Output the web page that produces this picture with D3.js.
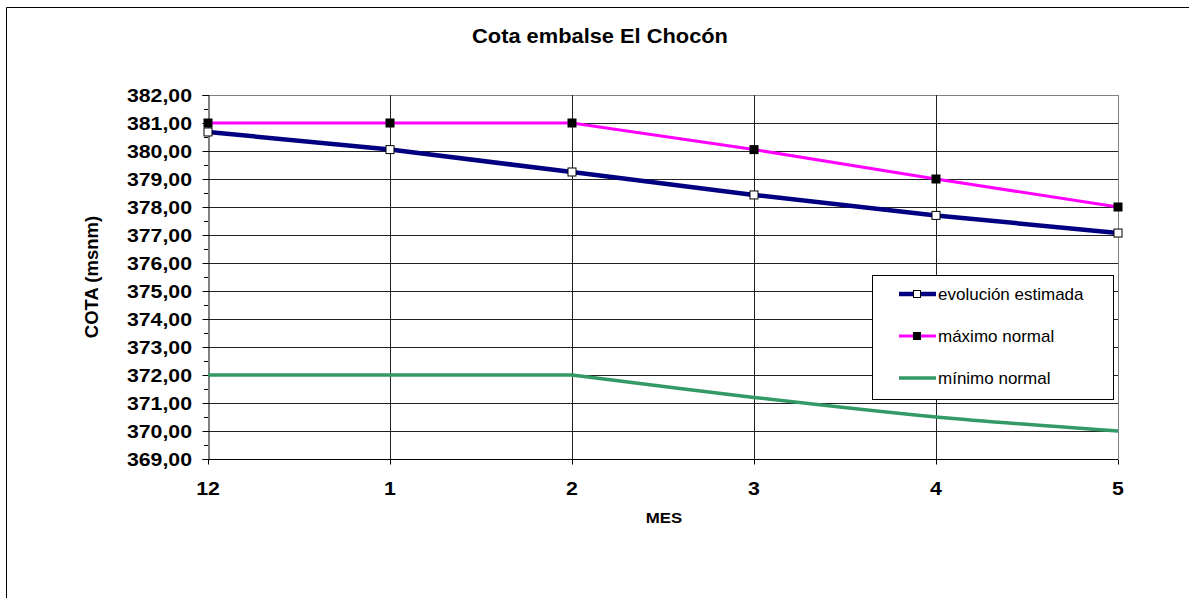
<!DOCTYPE html>
<html><head><meta charset="utf-8">
<script src="https://cdn.jsdelivr.net/npm/d3@7"></script>
<style>
html,body{margin:0;padding:0;background:#fff;}
svg{display:block;font-family:"Liberation Sans",Arial,sans-serif;}
</style></head>
<body>
<svg id="chart" width="1189" height="598"></svg>
<script>
const categories = ["12","1","2","3","4","5"];
const evolucion = [380.68, 380.05, 379.25, 378.43, 377.70, 377.07];
const maximo = [381.0, 381.0, 381.0, 380.05, 379.0, 378.0];
const minimo = [372.0, 372.0, 372.0, 371.2, 370.5, 370.0];
const yTicks = [369,370,371,372,373,374,375,376,377,378,379,380,381,382];
const seriesNames = ["evolución estimada","máximo normal","mínimo normal"];

const svg = d3.select("#chart");
const W = 1189, H = 598;
const L = 208, R = 1118, T = 95, B = 459;

const x = d3.scalePoint().domain(categories).range([L, R]);
const y = d3.scaleLinear().domain([369, 382]).range([B, T]);
const fmt = v => d3.format(".2f")(v).replace(".", ",");

// outer border (top + left)
svg.append("path").attr("d", `M6.5,${H} L6.5,7.5 L${W},7.5`)
  .attr("fill","none").attr("stroke","#000").attr("stroke-width",1);

// title
svg.append("text").attr("transform", "translate(600,43) scale(1.12,1)")
  .attr("text-anchor","middle").attr("font-weight","bold").attr("font-size",19.5)
  .text("Cota embalse El Chocón");

// horizontal gridlines
svg.append("g").selectAll("line").data(yTicks.slice(1)).join("line")
  .attr("x1", L).attr("x2", R)
  .attr("y1", d => Math.round(y(d)) + 0.5).attr("y2", d => Math.round(y(d)) + 0.5)
  .attr("stroke", (d) => d === 382 ? "#808080" : "#222").attr("stroke-width", 1);

// vertical gridlines
svg.append("g").selectAll("line").data(categories.slice(1)).join("line")
  .attr("x1", d => Math.round(x(d)) + 0.5).attr("x2", d => Math.round(x(d)) + 0.5)
  .attr("y1", T).attr("y2", B)
  .attr("stroke", d => d === "5" ? "#808080" : "#222").attr("stroke-width", 1);

// y axis
const yAxis = d3.axisLeft(y).tickValues(yTicks).tickSize(6).tickFormat("");
const gy = svg.append("g").attr("transform", `translate(${L + 0.5},0)`).call(yAxis);
gy.select(".domain").attr("stroke","#000");
gy.selectAll(".tick line").attr("stroke","#000");
// minor ticks
const minor = d3.range(369.5, 382, 1);
svg.append("g").selectAll("line").data(minor).join("line")
  .attr("x1", L - 4).attr("x2", L)
  .attr("y1", d => Math.round(y(d)) + 0.5).attr("y2", d => Math.round(y(d)) + 0.5)
  .attr("stroke","#000");
// y labels
svg.append("g").selectAll("text").data(yTicks).join("text")
  .attr("transform", d => `translate(192,${y(d) + 6.5}) scale(1.15,1)`)
  .attr("text-anchor","end").attr("font-weight","bold").attr("font-size",18.5)
  .text(d => fmt(d));

// x axis
const xAxis = d3.axisBottom(x).tickSize(5).tickFormat("");
const gx = svg.append("g").attr("transform", `translate(0,${B + 0.5})`).call(xAxis);
gx.select(".domain").attr("stroke","#000").attr("d", `M${L},0H${R}`);
gx.selectAll(".tick line").attr("stroke","#000");
svg.append("g").selectAll("text").data(categories).join("text")
  .attr("transform", d => `translate(${x(d)},495) scale(1.15,1)`)
  .attr("text-anchor","middle").attr("font-weight","bold").attr("font-size",18.5)
  .text(d => d);

// axis titles
svg.append("text").attr("transform","translate(664,523) scale(1.2,1)")
  .attr("text-anchor","middle").attr("font-weight","bold").attr("font-size",14)
  .text("MES");
svg.append("text").attr("transform","translate(98,277) rotate(-90)")
  .attr("text-anchor","middle").attr("font-weight","bold").attr("font-size",18.5)
  .text("COTA (msnm)");

// lines
const lineStraight = d3.line().x(d => x(d.c)).y(d => y(d.v));
const lineSmooth = d3.line().x(d => x(d.c)).y(d => y(d.v)).curve(d3.curveCatmullRom);
const pts = arr => arr.map((v,i) => ({c: categories[i], v}));

const minPts = pts(minimo);
// flat stretch drawn straight, descending stretch smoothed (as in the original)
svg.append("path").datum(minPts.slice(0,3)).attr("d", lineStraight)
  .attr("fill","none").attr("stroke","#339966").attr("stroke-width",3.5);
svg.append("path").datum(minPts.slice(2)).attr("d", lineSmooth)
  .attr("fill","none").attr("stroke","#339966").attr("stroke-width",3.5);
svg.append("path").datum(pts(maximo)).attr("d", lineStraight)
  .attr("fill","none").attr("stroke","#FF00FF").attr("stroke-width",3);
svg.append("path").datum(pts(evolucion)).attr("d", lineStraight)
  .attr("fill","none").attr("stroke","#000080").attr("stroke-width",4.5);

const ms = 9;
svg.append("g").selectAll("rect").data(maximo).join("rect")
  .attr("x",(d,i) => x(categories[i]) - ms/2).attr("y", d => y(d) - ms/2)
  .attr("width",ms).attr("height",ms).attr("fill","#000");
svg.append("g").selectAll("rect").data(evolucion).join("rect")
  .attr("x",(d,i) => x(categories[i]) - ms/2 + 0.5).attr("y", d => y(d) - ms/2 + 0.5)
  .attr("width",ms-1).attr("height",ms-1).attr("fill","#fff").attr("stroke","#000").attr("stroke-width",1);

// legend
const lg = svg.append("g");
lg.append("rect").attr("x",872.5).attr("y",275.5).attr("width",241).attr("height",124)
  .attr("fill","#fff").attr("stroke","#000").attr("stroke-width",1);
const rowsY = [294, 336, 378];
const styles = [
  {c:"#000080", w:4.5, m:"open"},
  {c:"#FF00FF", w:3, m:"fill"},
  {c:"#339966", w:3.5, m:null}
];
seriesNames.forEach((n,i) => {
  const s = styles[i], yy = rowsY[i];
  lg.append("line").attr("x1",899).attr("x2",936).attr("y1",yy).attr("y2",yy)
    .attr("stroke",s.c).attr("stroke-width",s.w);
  if (s.m === "open") lg.append("rect").attr("x",913.5).attr("y",yy-3.5).attr("width",7).attr("height",7)
    .attr("fill","#fff").attr("stroke","#000");
  if (s.m === "fill") lg.append("rect").attr("x",913).attr("y",yy-4).attr("width",8).attr("height",8)
    .attr("fill","#000");
  lg.append("text").attr("x",938).attr("y",yy+6).attr("font-size",17).text(n);
});
</script>
</body></html>
